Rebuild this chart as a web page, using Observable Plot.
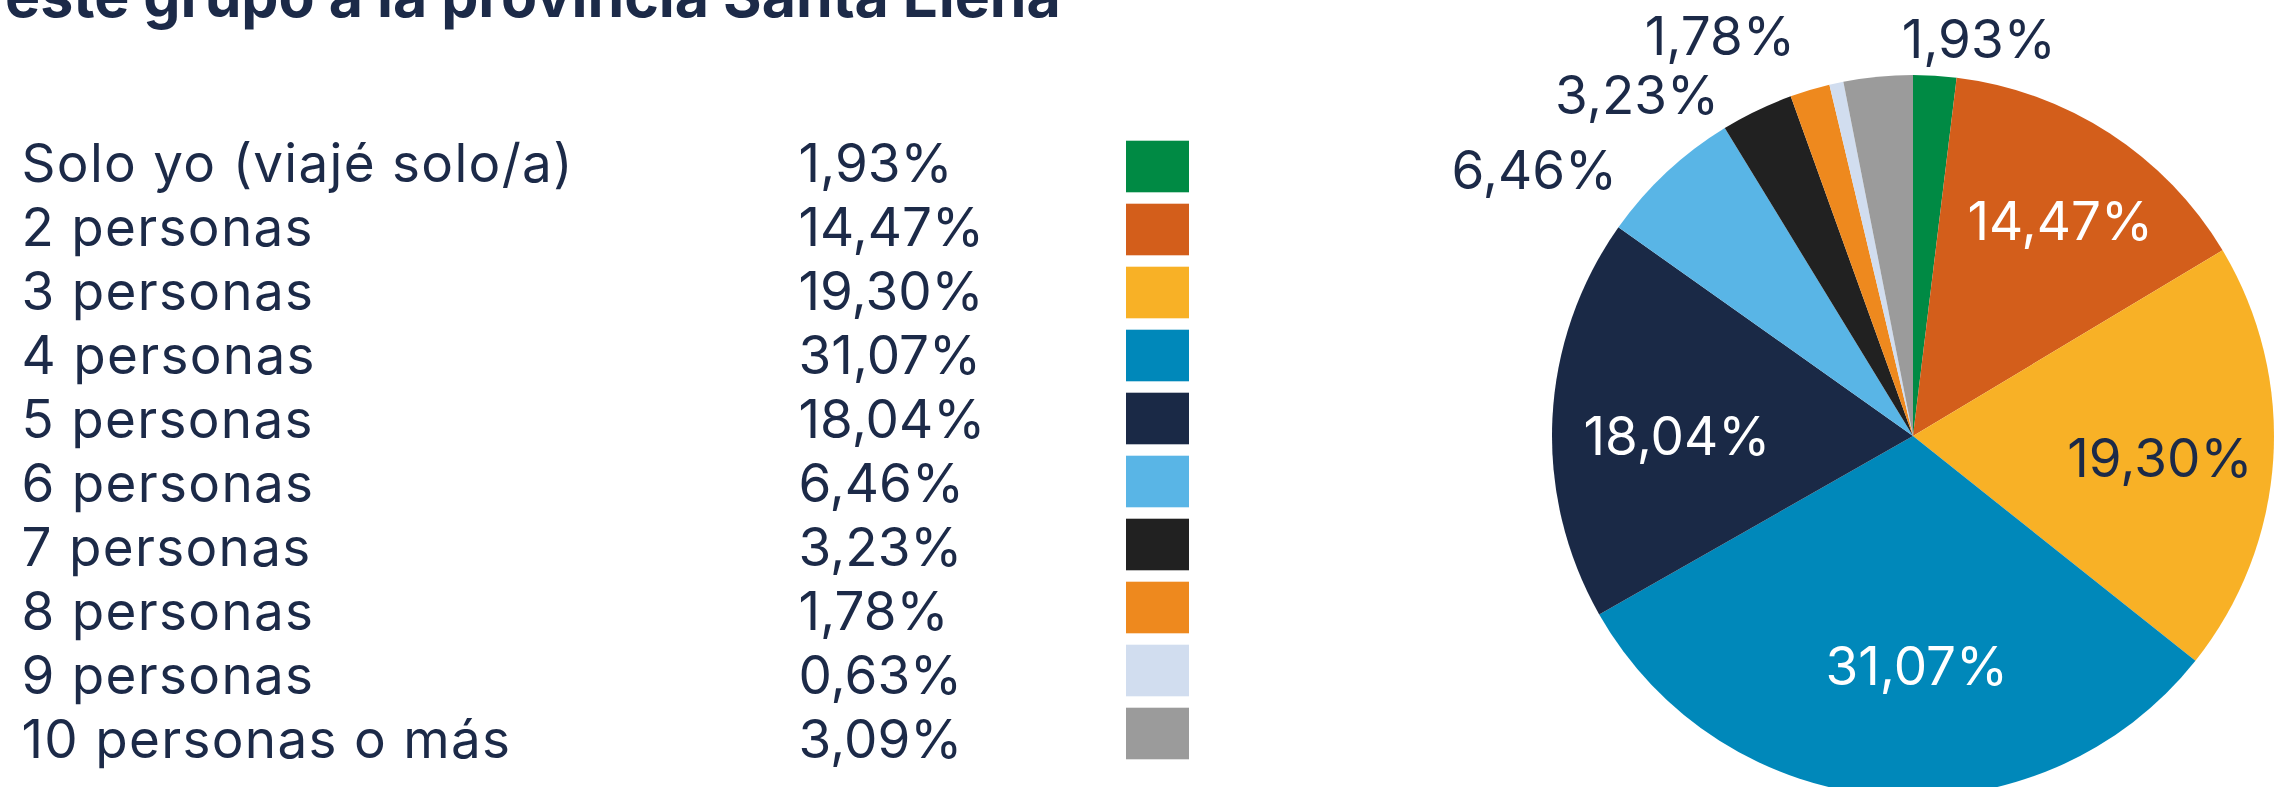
<!DOCTYPE html>
<html>
<head>
<meta charset="utf-8">
<script src="https://cdn.jsdelivr.net/npm/d3@7"></script>
<script src="https://cdn.jsdelivr.net/npm/@observablehq/plot@0.6"></script>
<style>
  html, body { margin: 0; padding: 0; background: #ffffff; }
  #root { position: relative; width: 2277px; height: 787px; overflow: hidden; font-family: Inter, "Noto Sans", sans-serif; color: #1c2a48; background: #ffffff; }
  #title { position: absolute; left: 5px; top: -34px; font-size: 59px; font-weight: 700; line-height: 59px; white-space: nowrap; color: #1c2a48; }
  .layer { position: absolute; left: 0; top: 0; }
  #pie { position: absolute; left: 1400px; top: 0; }
</style>
</head>
<body>
<div id="root">
  <div id="title"></div>
  <div id="legendText" class="layer"></div>
  <div id="legendSwatch" class="layer"></div>
  <div id="pie"></div>
</div>
<script>
// ---------- data ----------
const titleText = "este grupo a la provincia Santa Elena";
const categories = [
  "Solo yo (viajé solo/a)",
  "2 personas",
  "3 personas",
  "4 personas",
  "5 personas",
  "6 personas",
  "7 personas",
  "8 personas",
  "9 personas",
  "10 personas o más"
];
const percentages = [1.93, 14.47, 19.30, 31.07, 18.04, 6.46, 3.23, 1.78, 0.63, 3.09];
const colors = ["#008a44", "#d35e1b", "#f8b126", "#0088ba", "#1a2946", "#59b5e6", "#212121", "#ee891e", "#d1ddef", "#9b9b9b"];
const hiddenPieLabels = ["9 personas", "10 personas o más"];

// ---------- layout / style ----------
const TEXT_COLOR = "#1c2a48";
const FONT = "Inter, 'Noto Sans', sans-serif";
const FONT_SIZE = 53;
const OUTSIDE_THRESHOLD = 10;   // slices below this % get their label outside
const R_INSIDE = 0.67, R_OUTSIDE = 1.15;
// small placement adjustments (px) of the pie labels
const labelNudge = {
  "Solo yo (viajé solo/a)": {dx: -37, dy: 19},
  "2 personas": {dx: 15, dy: -11},
  "3 personas": {dx: 5, dy: 8},
  "4 personas": {dx: 22, dy: -10},
  "5 personas": {dx: 5, dy: 14},
  "6 personas": {dx: -13, dy: 39},
  "7 personas": {dx: -15, dy: 35},
  "8 personas": {dx: 0, dy: -1}
};

const fmt = v => v.toFixed(2).replace(".", ",") + "%";
const rows = categories.map((label, i) => ({label, value: percentages[i], color: colors[i], text: fmt(percentages[i])}));

document.getElementById("title").textContent = titleText;

const svgStyle = {fontFamily: FONT, background: "transparent", maxWidth: "none", overflow: "visible"};

// ---------- legend table: texts ----------
const legendText = Plot.plot({
  width: 1000,
  height: 787,
  margin: 0,
  style: svgStyle,
  x: {domain: [0, 1000], range: [0, 1000], axis: null},
  y: {type: "band", domain: categories, range: [132.8, 773.3], padding: 0, axis: null},
  marks: [
    Plot.text(rows, {x: 21, y: "label", text: "label", textAnchor: "start", fill: TEXT_COLOR, fontSize: FONT_SIZE, fontFamily: FONT}),
    Plot.text(rows, {x: 798, y: "label", text: "text", textAnchor: "start", fill: TEXT_COLOR, fontSize: FONT_SIZE, fontFamily: FONT})
  ]
});
const labelGroup = legendText.querySelector("g[aria-label='text']");
if (labelGroup) labelGroup.style.letterSpacing = "1.3px";
document.getElementById("legendText").appendChild(legendText);

// ---------- legend table: swatches ----------
const legendSwatch = Plot.plot({
  width: 1200,
  height: 787,
  margin: 0,
  style: svgStyle,
  x: {domain: [0, 1200], range: [0, 1200], axis: null},
  y: {type: "band", domain: categories, range: [133.4, 766.4], padding: 0, axis: null},
  color: {domain: categories, range: colors},
  marks: [
    Plot.barX(rows, {x1: 1126, x2: 1189, y: "label", fill: "label", insetTop: 5.7, insetBottom: 5.7})
  ]
});
document.getElementById("legendSwatch").appendChild(legendSwatch);

// ---------- pie ----------
const arcs = d3.pie().sort(null).value(d => d.value)(rows);
const labelData = arcs
  .filter(a => !hiddenPieLabels.includes(a.data.label))
  .map(a => {
    const mid = (a.startAngle + a.endAngle) / 2;
    const outside = a.data.value < OUTSIDE_THRESHOLD;
    const r = outside ? R_OUTSIDE : R_INSIDE;
    const dark = d3.lab(a.data.color).l < 60;
    return {
      label: a.data.label,
      text: a.data.text,
      x: r * Math.sin(mid),
      y: r * Math.cos(mid),
      anchor: outside ? (mid > Math.PI ? "end" : "start") : "middle",
      fill: (!outside && dark) ? "#ffffff" : TEXT_COLOR
    };
  });

const pieSlices = (index, scales) => {
  const cx = scales.x(0), cy = scales.y(0);
  const r = Math.abs(scales.x(1) - scales.x(0));
  const arc = d3.arc().innerRadius(0).outerRadius(r);
  const g = d3.create("svg:g").attr("transform", `translate(${cx},${cy})`);
  g.selectAll("path").data(arcs).join("path")
    .attr("d", arc)
    .attr("fill", d => d.data.color);
  return g.node();
};

const pie = Plot.plot({
  width: 877,
  height: 787,
  margin: 0,
  style: svgStyle,
  x: {domain: [-1, 1], range: [152, 874], axis: null},
  y: {domain: [-1, 1], range: [797, 75], axis: null},
  marks: [
    pieSlices,
    ...labelData.map(d => Plot.text([d], {
      x: "x", y: "y", text: "text",
      textAnchor: d.anchor,
      fill: d.fill,
      fontSize: FONT_SIZE, fontFamily: FONT,
      dx: (labelNudge[d.label] || {dx: 0}).dx,
      dy: (labelNudge[d.label] || {dy: 0}).dy
    }))
  ]
});
document.getElementById("pie").appendChild(pie);
</script>
</body>
</html>
